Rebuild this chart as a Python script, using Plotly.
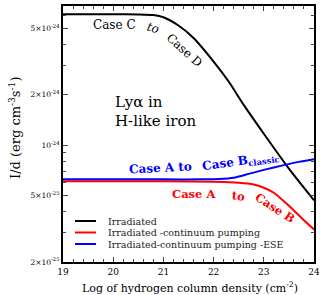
import plotly.graph_objects as go

# ---- data ----
x_black = [19, 19.5, 20, 20.5, 20.8, 21.0, 21.3, 21.6, 22.0, 22.3, 22.6, 23.0, 23.5, 24.0]
y_black = [6.07e-24, 6.07e-24, 6.07e-24, 6.05e-24, 6.00e-24, 5.82e-24, 5.19e-24, 4.37e-24,
           3.16e-24, 2.40e-24, 1.74e-24, 1.17e-24, 7.24e-25, 4.68e-25]

x_blue = [19, 20, 21, 21.8, 22.1, 22.4, 22.7, 23.0, 23.4, 23.7, 24.0]
y_blue = [6.24e-25, 6.24e-25, 6.24e-25, 6.24e-25, 6.27e-25, 6.38e-25, 6.73e-25, 7.11e-25,
          7.59e-25, 7.94e-25, 8.24e-25]

x_red = [19, 20, 21, 22, 22.5, 22.8, 23.0, 23.2, 23.4, 23.6, 23.8, 24.0]
y_red = [6.07e-25, 6.07e-25, 6.07e-25, 6.03e-25, 5.96e-25, 5.82e-25, 5.56e-25, 5.19e-25,
         4.62e-25, 4.07e-25, 3.55e-25, 3.13e-25]

series_names = ["Irradiated", "Irradiated -continuum pumping", "Irradiated-continuum pumping -ESE"]
series_colors = ["#000000", "#ff0000", "#0000ff"]

x_ticks = [19, 20, 21, 22, 23, 24]
y_tickvals = [2e-25, 5e-25, 1e-24, 2e-24, 5e-24]
y_ticktext = ["2×10<sup>-25</sup>", "5×10<sup>-25</sup>", "10<sup>-24</sup>",
              "2×10<sup>-24</sup>", "5×10<sup>-24</sup>"]
y_minor = [3e-25, 4e-25, 6e-25, 7e-25, 8e-25, 9e-25, 3e-24, 4e-24, 6e-24, 7e-24]

FONT = "DejaVu Serif"

fig = go.Figure()
for xs, ys, name, col in [(x_black, y_black, series_names[0], series_colors[0]),
                          (x_red, y_red, series_names[1], series_colors[1]),
                          (x_blue, y_blue, series_names[2], series_colors[2])]:
    fig.add_trace(go.Scatter(x=xs, y=ys, mode="lines", name=name,
                             line=dict(color=col, width=2, shape="spline", smoothing=0.6),
                             showlegend=False))

# manual compact legend
W, H = 320, 295
L, R, T, B = 63, 6, 6, 33
pw, ph = W - L - R, H - T - B
def px(xp): return (xp - L) / pw
def py(yp): return (H - B - yp) / ph

legend_rows = [221, 232.5, 244]
for name, col, yy in zip(series_names, series_colors, legend_rows):
    fig.add_shape(type="line", xref="paper", yref="paper",
                  x0=px(75), x1=px(96), y0=py(yy), y1=py(yy),
                  line=dict(color=col, width=2))
    fig.add_annotation(xref="paper", yref="paper", x=px(106), y=py(yy), text=name,
                       showarrow=False, xanchor="left", yanchor="middle",
                       font=dict(family=FONT, size=9.5, color="#222"))

def ann(text, xp, yp, size, color, angle=0, bold=False, anchor="center"):
    t = f"<b>{text}</b>" if bold else text
    fig.add_annotation(xref="paper", yref="paper", x=px(xp), y=py(yp), text=t,
                       showarrow=False, xanchor=anchor, yanchor="middle", textangle=angle,
                       font=dict(family=FONT, size=size, color=color))

ann("Case C", 114, 25, 12, "#000")
ann("<i>to</i>", 153, 28, 12, "#000", angle=15)
ann("Case D", 184, 50, 12, "#000", angle=42)
ann("Lyα in", 113, 102, 15, "#000", anchor="left")
ann("H-like iron", 113, 121, 15, "#000", anchor="left")
ann("Case A to", 160, 168, 12, "#0000ff", angle=-3, bold=True)
ann("Case B<sub>classic</sub>", 240, 162, 12, "#0000ff", angle=-8, bold=True)
ann("Case A", 194, 194, 11.5, "#ff0000", bold=True)
ann("to", 238, 195.5, 11.5, "#ff0000", angle=6, bold=True)
ann("Case B", 275, 208, 11.5, "#ff0000", angle=33, bold=True)

fig.add_annotation(xref="paper", yref="paper", x=px(15), y=py(128),
                   text="I/d (erg cm<sup>-3</sup>s<sup>-1</sup>)", showarrow=False,
                   textangle=-90, xanchor="center", yanchor="middle",
                   font=dict(family=FONT, size=13, color="#000"))
fig.add_annotation(xref="paper", yref="paper", x=px(190), y=py(287),
                   text="Log of hydrogen column density (cm<sup>-2</sup>)", showarrow=False,
                   xanchor="center", yanchor="middle",
                   font=dict(family=FONT, size=11, color="#000"))

fig.update_layout(
    width=W, height=H,
    margin=dict(l=L, r=R, t=T, b=B, autoexpand=False),
    paper_bgcolor="white", plot_bgcolor="white",
    font=dict(family=FONT, color="#000"),
    showlegend=False,
)
fig.update_xaxes(
    range=[19, 24], tickvals=x_ticks, ticks="inside", ticklen=5, tickwidth=1,
    showline=True, linewidth=2, linecolor="black", mirror="allticks",
    showgrid=False, zeroline=False, automargin=False,
    tickfont=dict(family=FONT, size=9),
    minor=dict(dtick=0.2, ticks="inside", ticklen=3, tickwidth=1, showgrid=False),
)
fig.update_yaxes(
    type="log", range=[-24.699, -23.168],
    tickmode="array", tickvals=y_tickvals, ticktext=y_ticktext,
    ticks="inside", ticklen=5, tickwidth=1,
    showline=True, linewidth=2, linecolor="black", mirror="allticks",
    showgrid=False, zeroline=False, automargin=False,
    tickfont=dict(family=FONT, size=7.5),
    minor=dict(tickmode="array", tickvals=y_minor, ticks="inside", ticklen=3,
               tickwidth=1, showgrid=False),
)

fig.write_html("out.html", config={"displayModeBar": False},
               post_script="document.body.style.margin='0';")
